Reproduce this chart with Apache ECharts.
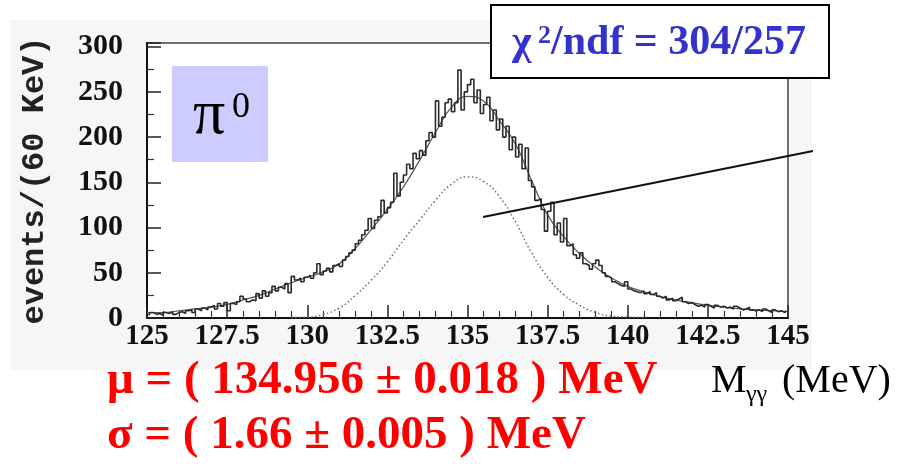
<!DOCTYPE html>
<html>
<head>
<meta charset="utf-8">
<script src="https://cdn.jsdelivr.net/npm/echarts@6/dist/echarts.min.js"></script>
<style>
  html, body { margin: 0; padding: 0; background: #fff; }
  #chart { width: 911px; height: 464px; }
</style>
</head>
<body>
<div id="chart"></div>
<script>
// histogram, 0.1 MeV bins starting at 125 MeV
var binStart = 125;
var binWidth = 0.1;
var counts = [
  3, 6, 4, 5, 3, 6, 5, 7, 4, 6,
  7, 5, 8, 9, 6, 10, 8, 11, 9, 12,
  14, 10, 16, 13, 17, 8, 16, 15, 18, 24,
  21, 18, 20, 19, 27, 22, 30, 24, 28, 35,
  30, 34, 32, 38, 28, 46, 42, 44, 40, 45,
  47, 44, 50, 60, 48, 52, 55, 51, 58, 60,
  57, 64, 68, 72, 75, 82, 86, 92, 97, 110,
  99, 108, 112, 130, 116, 122, 128, 160, 135, 150,
  158, 170, 165, 182, 176, 185, 180, 196, 205, 200,
  240, 212, 222, 238, 242, 228, 238, 274, 230, 250,
  258, 264, 238, 252, 226, 236, 244, 218, 230, 208,
  220, 200, 212, 186, 200, 178, 192, 165, 188, 152,
  145, 130, 132, 120, 96, 118, 128, 92, 105, 84,
  110, 80, 82, 70, 66, 72, 60, 58, 54, 60,
  64, 58, 50, 46, 44, 40, 38, 36, 35, 40,
  32, 30, 29, 28, 30, 27, 29, 26, 28, 24,
  22, 24, 20, 22, 19, 21, 23, 18, 16, 17,
  15, 13, 14, 12, 15, 13, 11, 14, 12, 13,
  11, 12, 10, 13, 11, 9, 10, 12, 9, 8,
  9, 7, 10, 8, 6, 9, 7, 8, 6, 8
];

// total fit (solid) and signal gaussian (dotted)
var fitMass = [125, 125.5, 126, 126.5, 127, 127.5, 128, 128.5, 129, 129.5,
  130, 130.5, 131, 131.5, 132, 132.5, 133, 133.5, 134, 134.5,
  135, 135.5, 136, 136.5, 137, 137.5, 138, 138.5, 139, 139.5,
  140, 140.5, 141, 141.5, 142, 142.5, 143, 143.5, 144, 144.5, 145];
var fitVals = [6, 6, 8, 10, 12, 15, 20, 25, 32, 39,
  45, 51, 60, 77, 98, 120, 145, 174, 205, 233,
  245, 240, 218, 192, 152, 114, 90, 71, 56, 44,
  35, 29, 24, 20, 17, 14, 12, 10, 9, 8, 7];

var gausMass = [129.5, 130, 130.5, 131, 131.5, 132, 132.5, 133, 133.5, 134, 134.5,
  135, 135.5, 136, 136.5, 137, 137.5, 138, 138.5, 139, 139.5, 140, 140.5];
var gausVals = [0.5, 1, 4, 11, 25, 42, 62, 86, 108, 130, 148,
  156, 151, 134, 106, 72, 45, 26, 14, 6, 2, 1, 0.5];

var xTicks = { min: 125, max: 145, step: 2.5 };
var yTicks = { min: 0, max: 304, step: 50 };

var histData = [];
for (var i = 0; i < counts.length; i++) {
  histData.push([binStart + binWidth * (i + 0.5), counts[i]]);
}
var fitData = fitMass.map(function (m, i) { return [m, fitVals[i]]; });
var gausData = gausMass.map(function (m, i) { return [m, gausVals[i]]; });

var serif = "'Liberation Serif', 'Times New Roman', serif";
var red = '#ff0000';
var blue = '#3333cc';

// free text as title components, (x, y) is the top-left of the text box
function label(txt, x, y, size, bold, color) {
  return { text: txt, left: x, top: y, padding: 0, z: 20,
    textStyle: { fontFamily: serif, fontSize: size, fontWeight: bold ? 'bold' : 'normal',
      color: color, lineHeight: size } };
}

var chart = echarts.init(document.getElementById('chart'));
chart.setOption({
  animation: false,
  backgroundColor: '#ffffff',
  title: [
    label('π', 193, 84, 64, false, '#000'),
    label('0', 232, 90, 36, false, '#000'),
    label('χ', 512, 22, 42, true, blue),
    label('2', 538, 23, 26, true, blue),
    label('/ndf = 304/257', 551, 22, 42, true, blue),
    label('μ = ( 134.956 ± 0.018 ) MeV', 107, 357, 47, true, red),
    label('σ = ( 1.66 ± 0.005 ) MeV', 107, 412, 47, true, red),
    label('M', 711, 361, 40, false, '#000'),
    label('γγ', 746, 383, 24, false, '#000'),
    label('(MeV)', 782, 361, 40, false, '#000')
  ],
  grid: {
    left: 147, right: 123, top: 43, bottom: 146,
    show: true, backgroundColor: '#ffffff',
    borderColor: '#707070', borderWidth: 2
  },
  xAxis: {
    type: 'value',
    min: xTicks.min, max: xTicks.max, interval: xTicks.step,
    axisLine: { lineStyle: { color: '#111', width: 2 } },
    axisTick: { inside: true, length: 13, lineStyle: { color: '#222', width: 1.5 } },
    minorTick: { show: true, splitNumber: 5, length: 7, lineStyle: { color: '#333', width: 1.2 } },
    splitLine: { show: false },
    axisLabel: {
      margin: 4, color: '#111',
      fontFamily: serif, fontWeight: 'bold', fontSize: 29
    }
  },
  yAxis: {
    type: 'value',
    min: yTicks.min, max: yTicks.max, interval: yTicks.step,
    name: 'events/(60 KeV)',
    nameLocation: 'middle', nameRotate: 90, nameGap: 96,
    nameTextStyle: {
      fontFamily: "'Liberation Mono', 'DejaVu Sans Mono', monospace",
      fontWeight: 'bold', fontSize: 32, color: '#222'
    },
    axisLine: { show: true, lineStyle: { color: '#111', width: 2 } },
    axisTick: { inside: true, length: 14, lineStyle: { color: '#222', width: 1.5 } },
    minorTick: { show: true, splitNumber: 2, length: 7, lineStyle: { color: '#333', width: 1.2 } },
    splitLine: { show: false },
    axisLabel: {
      margin: 24, color: '#111', showMaxLabel: false,
      fontFamily: serif, fontWeight: 'bold', fontSize: 30
    }
  },
  series: [
    {
      type: 'line', data: gausData, smooth: true, showSymbol: false,
      lineStyle: { color: '#666', width: 1.4, type: [1.5, 2.5] }, z: 2
    },
    {
      type: 'line', data: fitData, smooth: true, showSymbol: false,
      lineStyle: { color: '#555', width: 1.2 }, z: 3
    },
    {
      type: 'line', data: histData, step: 'middle', showSymbol: false,
      lineStyle: { color: '#2a2a2a', width: 1.6 }, z: 4
    }
  ],
  graphic: [
    // light grey panel behind the plot
    { type: 'rect', z: -10, shape: { x: 10, y: 20, width: 802, height: 350 },
      style: { fill: '#f6f6f6' } },
    // pi0 box
    { type: 'rect', z: 10, shape: { x: 172, y: 66, width: 96, height: 96 },
      style: { fill: '#ccccff' } },
    // chi2 box
    { type: 'rect', z: 10, shape: { x: 491, y: 5, width: 338, height: 73 },
      style: { fill: '#fff', stroke: '#000', lineWidth: 2 } },
    // pointer line
    { type: 'line', z: 10, shape: { x1: 483, y1: 217, x2: 813, y2: 151 },
      style: { stroke: '#111', lineWidth: 2 } }
  ]
});
</script>
</body>
</html>
